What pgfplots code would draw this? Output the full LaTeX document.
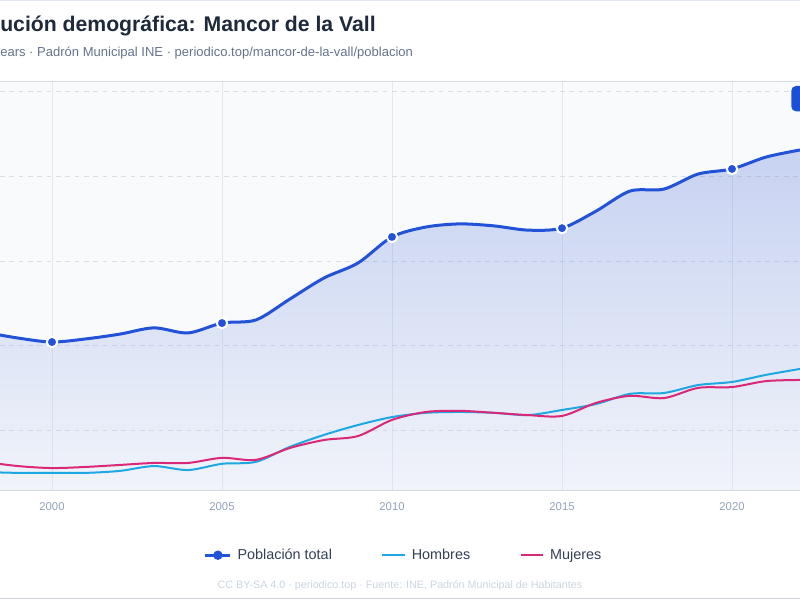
\documentclass[border=0pt]{standalone}
\usepackage{fontspec}
\setmainfont{Liberation Sans}
\usepackage{pgfplots}
\pgfplotsset{compat=1.18}
\definecolor{totc}{RGB}{33,82,216}
\definecolor{menc}{RGB}{30,168,226}
\definecolor{womc}{RGB}{219,39,119}
\definecolor{bgc}{RGB}{248,250,252}
\definecolor{fillt}{RGB}{56,94,212}
\definecolor{fillb}{RGB}{220,226,244}
\definecolor{titlec}{RGB}{30,41,59}
\definecolor{subc}{RGB}{100,116,139}
\definecolor{tickc}{RGB}{148,163,184}
\definecolor{legc}{RGB}{51,65,85}
\definecolor{footc}{RGB}{203,213,225}
\definecolor{gridc}{RGB}{226,232,240}
\definecolor{btnc}{RGB}{29,78,216}

\pgfplotsset{totleg/.style={legend image code/.code={%
  \draw[##1, line width=2pt, mark size=3pt, mark options={line width=1pt}, mark repeat=2, mark phase=2]
    plot coordinates {(0cm,0cm) (0.33cm,0cm) (0.66cm,0cm)};}}}

\pgfplotstableread{
year total men women
1998 949 455 491
1999 928 452 476
2000 914 452 469
2001 925 452 473
2002 942 459 480
2003 964 476 487
2004 946 462 487
2005 981 484 505
2006 992 491 498
2007 1066 544 540
2008 1140 586 568
2009 1193 621 582
2010 1285 649 639
2011 1320 664 667
2012 1331 667 671
2013 1324 664 664
2014 1309 656 656
2015 1316 674 653
2016 1376 695 699
2017 1447 731 724
2018 1454 734 716
2019 1507 762 752
2020 1525 773 755
2021 1567 798 776
2022 1592 819 780
}\poptable

\begin{document}
\begin{tikzpicture}
\useasboundingbox (0pt,0pt) rectangle (600pt,450pt);
\fill[white] (0pt,0pt) rectangle (600pt,450pt);
\clip (0pt,0pt) rectangle (600pt,450pt);
\begin{axis}[
  at={(0pt,81.75pt)}, anchor=south west, scale only axis,
  width=600pt, height=306.75pt,
  xmin=1998.4706, xmax=2022, ymin=388, ymax=1832,
  axis background/.style={fill=bgc},
  axis line style={draw=none},
  xtick={2000,2005,2010,2015,2020},
  ytick={600,900,1200,1500,1800},
  yticklabels={},
  major tick length=0pt,
  xmajorgrids, ymajorgrids,
  major x grid style={gridc, line width=0.75pt},
  major y grid style={gridc!90!gray, line width=0.75pt, dash pattern=on 3.5pt off 3.5pt},
  xticklabel style={/pgf/number format/1000 sep={}, font=\fontsize{8.5}{10}\selectfont, text=tickc, anchor=center, yshift=-12pt},
  /pgf/number format/assume math mode=true,
  legend style={at={(0.505,-0.157)}, anchor=center, draw=none, fill=none,
    legend columns=3, font=\fontsize{10.8}{13}\selectfont, text=legc,
    /tikz/every even column/.append style={column sep=35pt},
    /tikz/every odd column/.append style={column sep=2.3pt}},
  legend cell align=left,
  clip=true,
]
\addplot[draw=none, top color=fillt, bottom color=fillb, fill opacity=0.25, smooth, forget plot]
  table[x=year, y=total] {\poptable} -- (axis cs:2022,388) -- (axis cs:1998,388) -- cycle;
\addplot[totc, line width=2.25pt, smooth, mark=*, mark repeat=5, mark phase=2,
  mark size=3.9pt, mark options={fill=totc, draw=white, line width=1.5pt, solid}, totleg]
  table[x=year, y=total] {\poptable};
\addlegendentry{Población total}
\addplot[menc, line width=1.5pt, smooth] table[x=year, y=men] {\poptable};
\addlegendentry{Hombres}
\addplot[womc, line width=1.5pt, smooth] table[x=year, y=women] {\poptable};
\addlegendentry{Mujeres}
\draw[gridc!85!gray, line width=0.9pt] (rel axis cs:0,0) -- (rel axis cs:1,0);
\draw[gridc!90!gray, line width=0.75pt] (rel axis cs:0,1) -- (rel axis cs:1,1);
\end{axis}
\draw[gridc, line width=0.75pt] (0pt,449.6pt) -- (600pt,449.6pt);
\draw[gridc!80!gray, line width=0.75pt] (0pt,1.2pt) -- (600pt,1.2pt);
\node[anchor=base west, inner sep=0, font=\bfseries\fontsize{15.9}{18}\selectfont, text=titlec] at (0pt,426.4pt) {ución demográfica: Mancor de la Vall};
\node[anchor=base west, inner sep=0, font=\fontsize{9.77}{12}\selectfont, text=subc] at (0pt,407.6pt) {ears · Padrón Municipal INE · periodico.top/mancor-de-la-vall/poblacion};
\node[anchor=center, inner sep=0, font=\fontsize{8.05}{10}\selectfont, text=footc] at (300pt,10.5pt) {CC BY-SA 4.0 · periodico.top · Fuente: INE, Padrón Municipal de Habitantes};
\fill[btnc, rounded corners=3.5pt] (593.5pt,366.5pt) rectangle (615pt,385.5pt);
\end{tikzpicture}
\end{document}
